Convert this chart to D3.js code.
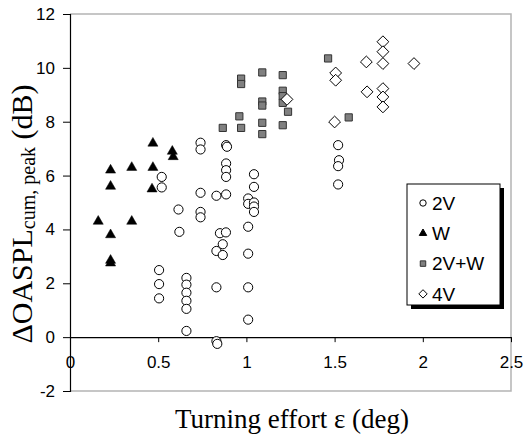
<!DOCTYPE html>
<html>
<head>
<meta charset="utf-8">
<script src="https://cdn.jsdelivr.net/npm/d3@7"></script>
<style>
  html, body { margin: 0; padding: 0; background: #fff; }
  svg { display: block; }
</style>
</head>
<body>
<svg id="chart" width="526" height="438"></svg>
<script>
// Turning effort (deg) vs. peak cumulative OASPL change (dB), four configurations
const series2V = [
  [0.505, 2.49], [0.505, 1.97], [0.505, 1.44],
  [0.52, 5.95], [0.52, 5.56],
  [0.615, 4.74], [0.62, 3.91],
  [0.66, 2.2], [0.66, 1.95], [0.66, 1.65], [0.66, 1.35], [0.66, 1.05], [0.66, 0.23],
  [0.74, 7.22], [0.74, 6.97], [0.74, 5.36], [0.74, 4.65], [0.74, 4.45],
  [0.83, 5.25], [0.83, 3.2], [0.83, 1.85], [0.83, -0.15], [0.835, -0.25],
  [0.85, 3.86], [0.866, 3.45], [0.866, 3.05],
  [0.885, 7.13], [0.89, 7.07], [0.885, 6.45], [0.885, 6.2], [0.885, 5.95], [0.885, 5.3], [0.884, 3.89],
  [1.01, 5.15], [1.01, 4.95], [1.01, 4.1], [1.01, 3.1], [1.01, 1.85], [1.01, 0.65],
  [1.043, 6.05], [1.043, 5.58], [1.043, 5.0], [1.043, 4.85], [1.043, 4.65],
  [1.52, 7.13], [1.525, 6.57], [1.52, 6.35], [1.52, 5.67]
];
const seriesW = [
  [0.16, 4.3], [0.23, 6.2], [0.23, 5.6], [0.23, 3.8], [0.23, 2.85], [0.23, 2.75],
  [0.35, 6.3], [0.35, 4.3], [0.47, 7.2], [0.47, 6.3], [0.465, 5.5],
  [0.58, 6.9], [0.585, 6.7]
];
const series2VW = [
  [0.866, 7.77], [0.96, 8.2], [0.97, 7.77], [0.97, 9.6], [0.97, 9.4],
  [1.09, 9.83], [1.09, 8.75], [1.09, 8.6], [1.09, 7.96], [1.09, 7.54],
  [1.206, 9.73], [1.206, 9.15], [1.206, 8.95], [1.206, 8.7], [1.206, 7.87],
  [1.236, 8.37], [1.463, 10.35], [1.58, 8.16]
];
const series4V = [
  [1.23, 8.83], [1.506, 9.81], [1.506, 9.54], [1.5, 7.99],
  [1.68, 10.22], [1.684, 9.11],
  [1.774, 10.97], [1.774, 10.6], [1.774, 10.16], [1.774, 9.23], [1.774, 8.92], [1.774, 8.55],
  [1.95, 10.16]
];
const xTicks = [0, 0.5, 1, 1.5, 2, 2.5];
const yTicks = [-2, 0, 2, 4, 6, 8, 10, 12];
const legendLabels = ["2V", "W", "2V+W", "4V"];

const svg = d3.select("#chart");
const plotL = 70, plotR = 511, plotT = 14, plotB = 391;

const x = d3.scaleLinear().domain([0, 2.5]).range([plotL, plotR]);
const y = d3.scaleLinear().domain([-2, 12]).range([plotB, plotT]);

// light grey frame on top, right and bottom
svg.append("path")
  .attr("d", `M${plotL},${plotT}H${plotR}V${plotB}H${plotL}`)
  .attr("fill", "none").attr("stroke", "#b4b4b4").attr("stroke-width", 1.5);

const sans = "'Liberation Sans', Arial, sans-serif";
const serif = "'Liberation Serif', 'Times New Roman', serif";

// y axis on the left edge (plain hyphen for negatives)
const yAxis = svg.append("g")
  .attr("transform", `translate(${plotL},0)`)
  .call(d3.axisLeft(y).tickValues(yTicks).tickSize(7).tickPadding(8).tickFormat(d => String(d)));
yAxis.select(".domain").attr("stroke", "#000").attr("stroke-width", 1.2);
yAxis.selectAll(".tick line").attr("stroke", "#000");
yAxis.selectAll("text").attr("font-family", sans).attr("font-size", 17).attr("fill", "#000");

// x axis crossing at y = 0
const xAxis = svg.append("g")
  .attr("transform", `translate(0,${y(0)})`)
  .call(d3.axisBottom(x).tickValues(xTicks).tickSize(5).tickSizeOuter(0).tickPadding(14)
    .tickFormat(d => String(d)));
xAxis.select(".domain").attr("stroke", "#000").attr("stroke-width", 1.2);
xAxis.selectAll(".tick line").attr("stroke", "#000");
xAxis.selectAll("text").attr("font-family", sans).attr("font-size", 17).attr("fill", "#000");

// marker shapes
const circlePath = d3.symbol().type(d3.symbolCircle).size(66)();
const trianglePath = d3.symbol().type(d3.symbolTriangle).size(44)();
const squarePath = d3.symbol().type(d3.symbolSquare).size(52)();
const diamondPath = (h => `M0,${-h}L${h},0L0,${h}L${-h},0Z`)(5.9);

function draw(data, path, fill, stroke, sw) {
  svg.append("g").selectAll("path").data(data).join("path")
    .attr("d", path)
    .attr("transform", d => `translate(${x(d[0])},${y(d[1])})`)
    .attr("fill", fill).attr("stroke", stroke).attr("stroke-width", sw);
}
draw(series2V, circlePath, "#fff", "#000", 1);
draw(seriesW, trianglePath, "#000", "#000", 0.5);
draw(series2VW, squarePath, "#808080", "#333", 1);
draw(series4V, diamondPath, "#fff", "#000", 1);

// legend with drop shadow
const lx = 407, ly = 184, lw = 93, lh = 121;
svg.append("rect").attr("x", lx + 4).attr("y", ly + 4).attr("width", lw).attr("height", lh).attr("fill", "#000");
svg.append("rect").attr("x", lx).attr("y", ly).attr("width", lw).attr("height", lh)
  .attr("fill", "#fff").attr("stroke", "#000").attr("stroke-width", 1);
const legendMarks = [
  [d3.symbol().type(d3.symbolCircle).size(32)(), "#fff", "#000"],
  [d3.symbol().type(d3.symbolTriangle).size(24)(), "#000", "#000"],
  [d3.symbol().type(d3.symbolSquare).size(30)(), "#808080", "#333"],
  [(h => `M0,${-h}L${h},0L0,${h}L${-h},0Z`)(4.2), "#fff", "#000"]
];
legendLabels.forEach((lab, i) => {
  const cy = 203 + i * 30.3;
  const [p, f, s] = legendMarks[i];
  svg.append("path").attr("d", p).attr("transform", `translate(423,${cy})`)
    .attr("fill", f).attr("stroke", s).attr("stroke-width", 1);
  svg.append("text").attr("x", 432).attr("y", cy + 6.8)
    .attr("font-family", sans).attr("font-size", 19).attr("fill", "#000").text(lab);
});

// axis titles
svg.append("text").attr("x", 292).attr("y", 428).attr("text-anchor", "middle")
  .attr("font-family", serif).attr("font-size", 27).attr("fill", "#000")
  .text("Turning effort ε (deg)");

const yt = svg.append("text")
  .attr("transform", "translate(32,214) rotate(-90)")
  .attr("text-anchor", "middle")
  .attr("font-family", serif).attr("font-size", 30).attr("fill", "#000");
yt.append("tspan").text("ΔOASPL");
yt.append("tspan").attr("font-size", 20).attr("dy", 3).text("cum, peak");
yt.append("tspan").attr("dy", -3).text(" (dB)");
</script>
</body>
</html>
